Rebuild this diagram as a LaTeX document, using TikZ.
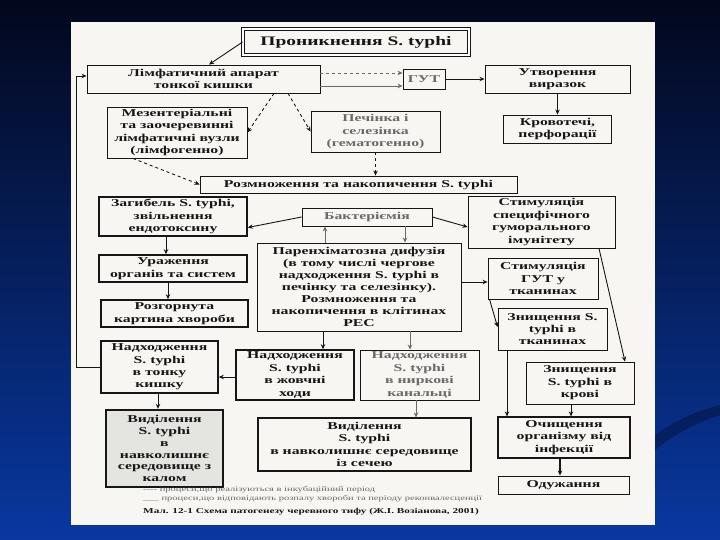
\documentclass[tikz,border=0pt]{standalone}
\usepackage{fontspec}
\setmainfont[FakeStretch=1.5]{Liberation Serif}
\usepackage{tikz}
\usetikzlibrary{arrows.meta}
\definecolor{slidetop}{RGB}{3,7,28}
\definecolor{slidemid}{RGB}{10,36,122}
\definecolor{slidebot}{RGB}{8,56,160}
\definecolor{paper}{RGB}{247,246,242}
\definecolor{shadow}{RGB}{228,228,224}
\definecolor{ink}{RGB}{22,22,22}
\definecolor{faded}{RGB}{105,105,105}

\begin{document}
\begin{tikzpicture}[x=1pt,y=-1pt,>={Stealth[length=5pt,width=4.5pt]},
  box/.style={draw=ink,line width=0.9pt,fill=paper,inner sep=0pt,align=center,text=ink,
    font=\bfseries\fontsize{10.5}{12.4}\selectfont},
  thickbox/.style={box,line width=1.6pt},
  tight/.style={font=\bfseries\fontsize{10.5}{11.9}\selectfont},
  faint/.style={text=faded},
  conn/.style={->,draw=ink,line width=0.9pt},
  dconn/.style={conn,dashed}]
  \useasboundingbox (0,0) rectangle (720,540);
  \shade[top color=slidetop,middle color=slidemid,bottom color=slidebot] (0,0) rectangle (720,540);
  \fill[slidetop,opacity=0.35] (655,450) .. controls (680,430) and (700,422) .. (720,415)
    -- (720,405) .. controls (700,410) and (675,420) .. (655,435) -- cycle;
  \fill[paper] (71,22) rectangle (655,525);

  \node[box,double,double distance=1.3pt,minimum width=226pt,minimum height=26pt,
    font=\bfseries\fontsize{13}{15}\selectfont] (entry) at (356,42) {Проникнення S. typhi};
  \node[box,minimum width=233pt,minimum height=28pt] (lymph) at (203.5,79) {Лімфатичний апарат\\тонкої кишки};
  \node[box,faint,minimum width=42pt,minimum height=20pt] (gut) at (424,79) {ГУТ};
  \node[box,minimum width=145pt,minimum height=28pt] (ulcer) at (557.5,79) {Утворення\\виразок};
  \node[box,minimum width=108pt,minimum height=28pt] (bleed) at (557.5,129) {Кровотечі,\\перфорації};
  \node[box,minimum width=140pt,minimum height=51pt] (mesen) at (177,132.5) {Мезентеріальні\\та заочеревинні\\лімфатичні вузли\\(лімфогенно)};
  \node[box,faint,minimum width=129pt,minimum height=41pt] (liver) at (375.5,131.5) {Печінка і\\селезінка\\(гематогенно)};
  \node[box,minimum width=317pt,minimum height=17pt] (repro) at (358.5,184.5) {Розмноження та накопичення S. typhi};
  \node[thickbox,minimum width=148pt,minimum height=39pt] (death) at (173,216.5) {Загибель S. typhi,\\звільнення\\ендотоксину};
  \node[box,faint,minimum width=130pt,minimum height=18pt] (bact) at (367,217) {Бактеріємія};
  \node[box,minimum width=147pt,minimum height=52pt] (immun) at (541.5,222) {Стимуляція\\специфічного\\гуморального\\імунітету};
  \node[thickbox,minimum width=148pt,minimum height=27pt] (organ) at (173,268.5) {Ураження\\органів та систем};
  \node[thickbox,minimum width=147pt,minimum height=27pt] (full) at (174.5,313.5) {Розгорнута\\картина хвороби};
  \node[box,tight,minimum width=204pt,minimum height=88pt] (paren) at (359,287) {Паренхіматозна дифузія\\(в тому числі чергове\\надходження S. typhi в\\печінку та селезінку).\\Розмноження та\\накопичення в клітинах\\РЕС};
  \node[box,minimum width=110pt,minimum height=41pt] (stimgut) at (543,278.5) {Стимуляція\\ГУТ у\\тканинах};
  \node[box,minimum width=109pt,minimum height=42pt] (killtis) at (552.5,329) {Знищення S.\\typhi в\\тканинах};
  \node[thickbox,minimum width=117pt,minimum height=52pt] (intest) at (159.5,367) {Надходження\\S. typhi\\в тонку\\кишку};
  \node[thickbox,minimum width=118pt,minimum height=50pt] (bile) at (295,375) {Надходження\\S. typhi\\в жовчні\\ходи};
  \node[box,faint,minimum width=119pt,minimum height=50pt] (kidney) at (419.5,375) {Надходження\\S. typhi\\в ниркові\\канальці};
  \node[box,minimum width=108pt,minimum height=42pt] (killblood) at (580,383) {Знищення\\S. typhi в\\крові};
  \node[thickbox,tight,line width=2.4pt,fill=shadow,minimum width=117pt,minimum height=77pt] (fecal) at (164.5,448.5) {Виділення\\S. typhi\\в\\навколишнє\\середовище з\\калом};
  \node[box,line width=1.2pt,minimum width=213pt,minimum height=53pt] (urine) at (364.5,444.5) {Виділення\\S. typhi\\в навколишнє середовище\\із сечею};
  \node[box,line width=1.2pt,minimum width=132pt,minimum height=41pt] (clean) at (564,437.5) {Очищення\\організму від\\інфекції};
  \node[box,minimum width=131pt,minimum height=18pt] (recov) at (563.5,485) {Одужання};

  \node[anchor=west,inner sep=0pt,text=faded,font=\fontsize{7}{8}\selectfont] (leg1) at (143,490) {{-}{-}{-}{-} процеси,що реалізуються в інкубаційний період};
  \node[anchor=west,inner sep=0pt,text=faded,font=\fontsize{7}{8}\selectfont] (leg2) at (143,499) {\_\_\_ процеси,що відповідають розпалу хвороби та періоду реконвалесценції};
  \node[anchor=west,inner sep=0pt,text=ink,font=\bfseries\fontsize{7.5}{9}\selectfont] (caption) at (143,512) {Мал. 12-1 Схема патогенезу черевного тифу (Ж.І. Возіанова, 2001)};

  \draw[conn] (entry.west) -- ([xshift=5.5pt]lymph.north);
  \draw[dconn,draw=faded] ([yshift=6pt]lymph.east) -- ([yshift=6pt]gut.west);
  \draw[conn,draw=faded] ([yshift=-7pt]lymph.east) -- ([yshift=-7pt]gut.west);
  \draw[conn] (gut.east) -- (ulcer.west);
  \draw[conn] (ulcer.south) -- (bleed.north);
  \draw[dconn] ([xshift=70.5pt]lymph.south) -- (mesen.east);
  \draw[dconn] ([xshift=84.5pt]lymph.south) -- (liver.west);
  \draw[dconn] (liver.south) -- (liver.south |- repro.north);
  \draw[dconn] ([xshift=-44pt]mesen.south) -- (repro.west);
  \draw[conn] (bact.west) -- ([yshift=-11pt]death.east);
  \draw[conn] (bact.east) -- ([yshift=-5pt]immun.west);
  \draw[conn,draw=faded] ([xshift=-34pt]paren.north) -- ([xshift=-34pt]paren.north |- bact.south);
  \draw[conn,draw=faded] ([xshift=38pt]bact.south) -- ([xshift=38pt]bact.south |- paren.north);
  \draw[conn] ([xshift=-7pt]death.south) -- ([xshift=-7pt]death.south |- organ.north);
  \draw[conn] ([xshift=-5pt]organ.south) -- ([xshift=-5pt]organ.south |- full.north);
  \draw[conn] ([yshift=5pt]paren.east) -- ([yshift=5pt]paren.east -| stimgut.west);
  \draw[conn] ([xshift=2pt]stimgut.south west) -- ([yshift=2pt]killtis.west);
  \draw[conn] ([xshift=57.5pt]immun.south) -- ([xshift=45pt]killblood.north);
  \draw[conn] ([xshift=-45.5pt]killtis.south) -- ([xshift=-45.5pt]killtis.south |- clean.north);
  \draw[conn] ([xshift=-9pt]killblood.south) -- ([xshift=-9pt]killblood.south |- clean.north);
  \draw[conn,line width=1.6pt] ([xshift=-4pt]clean.south) -- ([xshift=-4pt]clean.south |- recov.north);
  \draw[conn] ([xshift=-36pt]paren.south) -- ([xshift=-36pt]paren.south |- bile.north);
  \draw[conn,draw=faded] ([xshift=51pt]paren.south) -- ([xshift=51pt]paren.south |- kidney.north);
  \draw[conn] ([yshift=-2pt]bile.west) -- ([yshift=-2pt]bile.west -| intest.east);
  \draw[conn] ([xshift=-1.5pt]intest.south) -- ([xshift=-1.5pt]intest.south |- fecal.north);
  \draw[conn,draw=faded] ([xshift=-3.5pt]kidney.south) -- ([xshift=-3.5pt]kidney.south |- urine.north);
  \coordinate (loop) at (76,76);
  \draw[conn] (intest.west) -| (loop) -- (loop -| lymph.west);
\end{tikzpicture}
\end{document}
